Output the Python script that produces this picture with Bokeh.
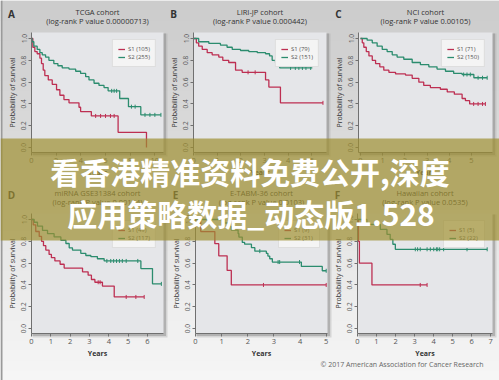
import numpy as np
from bokeh.plotting import figure
from bokeh.models import Range1d, FixedTicker, PrintfTickFormatter, GridBox
from bokeh.core.properties import value
from bokeh.embed import file_html
from bokeh.resources import INLINE

# ---------------- data ----------------
letters = ["A", "B", "C", "D", "E", "F"]
titles = ["TCGA cohort", "LIRI-JP cohort", "NCI cohort",
          "miRNA GSE31384 cohort", "E-TABM-36 cohort", "Hawaiian cohort"]
pvalues = ["0.00000713", "0.000442", "0.00105", "0.00134", "0.0103", "0.0535"]
s1_n = [105, 79, 71, 49, 9, 5]
s2_n = [255, 151, 150, 117, 31, 22]
x_ticks = [[0, 2, 4, 6, 8, 10], [0, 1, 2, 3, 4, 5], [0, 1, 2, 3, 4, 5],
           [0, 1, 2, 3, 4, 5, 6], [0, 1, 2, 3, 4, 5], [0, 1, 2, 3, 4, 5, 6, 7]]
y_ticks = [0.0, 0.2, 0.4, 0.6, 0.8, 1.0]

a_s1_t = [0, 0.11, 0.27, 0.46, 0.68, 0.81, 0.95, 1.08, 1.36, 1.68, 2.03, 2.30, 2.63, 3.04, 3.85, 3.98, 4.85, 7.02, 9.32]
a_s1_s = [1.0, 0.92, 0.88, 0.86, 0.82, 0.77, 0.71, 0.66, 0.62, 0.58, 0.53, 0.48, 0.44, 0.41, 0.37, 0.33, 0.29, 0.14, 0.0]
a_s2_t = [0, 0.05, 0.19, 0.46, 0.68, 0.87, 1.14, 1.41, 1.81, 2.14, 2.49, 3.04, 3.58, 3.98, 4.39, 4.66, 5.07, 5.47, 5.88, 6.21, 7.15, 7.86, 8.86, 10.49]
a_s2_s = [1.0, 0.97, 0.93, 0.90, 0.87, 0.85, 0.83, 0.80, 0.77, 0.75, 0.73, 0.72, 0.70, 0.68, 0.65, 0.62, 0.59, 0.57, 0.55, 0.52, 0.45, 0.375, 0.30, 0.30]
a_c1_t = [5.2, 5.6, 6.0, 6.4, 6.7]
a_c1_s = [0.29, 0.29, 0.29, 0.29, 0.29]
a_c2_t = [6.5, 6.7, 6.9, 8.1, 8.4, 9.2, 9.6, 10.0, 10.49]
a_c2_s = [0.52, 0.52, 0.52, 0.375, 0.375, 0.30, 0.30, 0.30, 0.30]

b_s1_t = [0, 0.11, 0.21, 0.36, 0.57, 0.78, 1.06, 1.23, 1.48, 1.77, 2.05, 3.04, 3.18, 3.67, 5.47]
b_s1_s = [1.0, 0.96, 0.93, 0.90, 0.87, 0.85, 0.83, 0.80, 0.78, 0.71, 0.69, 0.62, 0.555, 0.41, 0.41]
b_s2_t = [0, 0.21, 0.64, 1.13, 1.41, 1.63, 1.98, 2.33, 2.69, 3.04, 3.21, 3.32, 3.46, 3.64, 5.02]
b_s2_s = [1.0, 0.97, 0.955, 0.94, 0.92, 0.90, 0.89, 0.88, 0.87, 0.86, 0.84, 0.80, 0.78, 0.73, 0.73]
b_c1_t = [2.3, 2.6, 5.47]
b_c1_s = [0.69, 0.69, 0.41]
b_c2_t = [4.1, 4.3, 4.45, 4.6, 4.75, 4.95]
b_c2_s = [0.73, 0.73, 0.73, 0.73, 0.73, 0.73]

c_s1_t = [0, 0.08, 0.15, 0.26, 0.38, 0.53, 0.68, 0.87, 1.05, 1.28, 1.58, 2.03, 2.33, 2.63, 2.85, 3.15, 3.60, 3.91, 4.23, 4.58, 4.73, 4.92, 5.63]
c_s1_s = [1.0, 0.96, 0.92, 0.88, 0.84, 0.80, 0.77, 0.74, 0.71, 0.69, 0.675, 0.665, 0.635, 0.60, 0.57, 0.55, 0.535, 0.51, 0.49, 0.45, 0.43, 0.40, 0.40]
c_s2_t = [0, 0.30, 0.53, 0.75, 0.98, 1.20, 1.43, 1.65, 1.95, 2.33, 2.70, 3.08, 3.45, 3.83, 4.20, 4.58, 5.11, 5.71]
c_s2_s = [1.0, 0.985, 0.96, 0.93, 0.90, 0.88, 0.85, 0.83, 0.81, 0.78, 0.76, 0.74, 0.72, 0.70, 0.68, 0.67, 0.64, 0.64]
c_c1_t = [5.1, 5.3, 5.5, 5.63]
c_c1_s = [0.40, 0.40, 0.40, 0.40]
c_c2_t = [4.65, 4.8, 4.95, 5.3, 5.5, 5.71]
c_c2_s = [0.67, 0.67, 0.67, 0.64, 0.64, 0.64]

d_s1_t = [0, 0.09, 0.22, 0.40, 0.52, 0.62, 0.74, 0.91, 1.03, 1.21, 1.48, 1.69, 2.64, 2.93, 3.10, 3.28, 3.67, 4.28, 5.83]
d_s1_s = [1.0, 0.95, 0.89, 0.845, 0.80, 0.76, 0.72, 0.68, 0.65, 0.62, 0.59, 0.555, 0.52, 0.49, 0.45, 0.425, 0.39, 0.29, 0.29]
d_s2_t = [0, 0.14, 0.31, 0.57, 0.83, 1.17, 1.52, 1.78, 1.95, 2.12, 2.55, 2.81, 3.07, 3.41, 3.76, 5.66, 6.26, 6.72]
d_s2_s = [1.0, 0.975, 0.94, 0.90, 0.87, 0.84, 0.81, 0.78, 0.74, 0.72, 0.69, 0.67, 0.66, 0.64, 0.62, 0.55, 0.41, 0.41]
d_c1_t = [3.45, 3.55, 4.9, 5.4, 5.83]
d_c1_s = [0.425, 0.425, 0.29, 0.29, 0.29]
d_c2_t = [3.9, 4.1, 4.25, 4.4, 4.55, 4.7, 4.9, 5.5, 6.72]
d_c2_s = [0.62, 0.62, 0.62, 0.62, 0.62, 0.62, 0.62, 0.62, 0.41]

e_s1_t = [0, 0.20, 0.74, 0.89, 1.21, 1.37, 5.0]
e_s1_s = [1.0, 0.889, 0.778, 0.667, 0.533, 0.40, 0.40]
e_s2_t = [0, 1.12, 1.31, 1.37, 1.63, 1.66, 1.79, 1.88, 2.14, 2.27, 2.71, 2.77, 2.84, 2.94, 4.05, 4.85, 5.0]
e_s2_s = [1.0, 0.968, 0.935, 0.903, 0.871, 0.839, 0.79, 0.774, 0.742, 0.71, 0.69, 0.665, 0.64, 0.61, 0.57, 0.53, 0.53]
e_c1_t = [2.6, 5.0]
e_c1_s = [0.40, 0.40]
e_c2_t = [2.46, 3.16, 3.22, 3.98, 5.0]
e_c2_s = [0.71, 0.61, 0.61, 0.61, 0.53]

f_s1_t = [0, 0.05, 0.10, 0.76, 3.66]
f_s1_s = [1.0, 0.8, 0.6, 0.4, 0.4]
f_s2_t = [0, 0.49, 1.20, 1.55, 1.72, 1.86, 1.99, 6.82]
f_s2_s = [1.0, 0.955, 0.909, 0.864, 0.818, 0.773, 0.727, 0.727]
f_c1_t = [3.3, 3.66]
f_c1_s = [0.4, 0.4]
f_c2_t = [3.04, 3.16, 3.30, 3.66, 3.83, 4.01, 4.15, 4.22, 4.32, 4.53, 5.76, 6.82]
f_c2_s = [0.727] * 12

banner_lines = ["看香港精准资料免费公开,深度", "应用策略数据_动态版1.528"]
footer = "© 2017 American Association for Cancer Research"

series = [
    (a_s1_t, a_s1_s, a_s2_t, a_s2_s, a_c1_t, a_c1_s, a_c2_t, a_c2_s),
    (b_s1_t, b_s1_s, b_s2_t, b_s2_s, b_c1_t, b_c1_s, b_c2_t, b_c2_s),
    (c_s1_t, c_s1_s, c_s2_t, c_s2_s, c_c1_t, c_c1_s, c_c2_t, c_c2_s),
    (d_s1_t, d_s1_s, d_s2_t, d_s2_s, d_c1_t, d_c1_s, d_c2_t, d_c2_s),
    (e_s1_t, e_s1_s, e_s2_t, e_s2_s, e_c1_t, e_c1_s, e_c2_t, e_c2_s),
    (f_s1_t, f_s1_s, f_s2_t, f_s2_s, f_c1_t, f_c1_s, f_c2_t, f_c2_s),
]

# ---------------- layout / style ----------------
W, H = 499, 380
# plot boxes (left, right, top, bottom) in page pixels
boxes = [(31, 163, 32, 152), (193, 326, 32, 152), (358, 492, 32, 152),
         (31, 163, 213, 333), (195, 327, 213, 333), (357, 492, 213, 333)]
x_ranges = [(0, 10.7), (-0.01, 5.62), (-0.09, 5.95), (0, 6.83), (0, 5.05), (0, 7.1)]
RED = "#bd2f52"
GREEN = "#2b8c6e"
FONT = "Open Sans"
BL, BR, BT, BB = 30, 6, 4, 30


def canvas_fig():
    p = figure(width=W, height=H, x_range=Range1d(0, W), y_range=Range1d(H, 0),
               output_backend="svg", toolbar_location=None, min_border=0,
               x_axis_type=None, y_axis_type=None, margin=(0, 0, 0, 0),
               sizing_mode="fixed", align="start", frame_align=False)
    p.grid.visible = False
    p.outline_line_color = None
    return p


def make_bg():
    p = canvas_fig()
    p.background_fill_color = "#eeeeee"
    p.border_fill_color = "#eeeeee"
    nb = 38
    edges = np.linspace(0, H, nb + 1)
    c0 = np.array([204, 204, 204])
    c1 = np.array([246, 246, 246])
    cols = []
    for k in range(nb):
        f = k / (nb - 1)
        c = (c0 * (1 - f) + c1 * f).astype(int)
        cols.append("#%02x%02x%02x" % tuple(c))
    p.quad(left=0, right=W, top=edges[:-1], bottom=edges[1:] + 0.5, fill_color=cols, line_color=None)
    p.quad(left=0, right=2, top=0, bottom=H, fill_color="#9a9a9a", line_color=None)
    for (L, R, T, B) in boxes:
        p.quad(left=L + 1, right=R + 4, top=T + 1, bottom=B + 4, fill_color="#a0a0a0",
               fill_alpha=0.35, line_color=None)
        p.quad(left=L + 1, right=R + 2.5, top=T + 1, bottom=B + 2.5, fill_color="#888888",
               fill_alpha=0.45, line_color=None)
    cx = [(b[0] + b[1]) / 2 for b in boxes]
    p.text(x=cx, y=[b[2] - 20.5 for b in boxes], text=titles, text_align="center",
           text_baseline="middle", text_font=value(FONT), text_font_size="7.5px", text_color="#333333")
    subs = ["(log-rank P value %s)" % v for v in pvalues]
    p.text(x=cx, y=[b[2] - 11.5 for b in boxes], text=subs, text_align="center",
           text_baseline="middle", text_font=value(FONT), text_font_size="7.5px", text_color="#333333")
    p.text(x=[b[0] - 20 for b in boxes], y=[b[2] - 19 for b in boxes], text=letters,
           text_align="center", text_baseline="middle", text_font=value(FONT),
           text_font_size="10px", text_font_style="bold", text_color="#333333")
    p.text(x=[483], y=[364], text=[footer], text_align="right", text_baseline="middle",
           text_font=value(FONT), text_font_size="7px", text_color="#666666")
    return p


def make_panel(i):
    L, R, T, B = boxes[i]
    s1t, s1s, s2t, s2s, c1t, c1s, c2t, c2s = series[i]
    p = figure(width=BL + (R - L) + BR, height=BT + (B - T) + BB, x_range=Range1d(*x_ranges[i]),
               y_range=Range1d(-0.045, 1.055), output_backend="svg", toolbar_location=None,
               min_border_left=BL, min_border_right=BR, min_border_top=BT, min_border_bottom=BB,
               margin=(T - BT, 0, 0, L - BL), sizing_mode="fixed", align="start", frame_align=False)
    p.background_fill_color = "#e5e6e9"
    p.border_fill_alpha = 0
    p.outline_line_color = None
    p.grid.visible = False
    p.step(s1t, s1s, mode="after", line_color=RED, line_width=1.3, legend_label="S1 (%d)" % s1_n[i])
    p.step(s2t, s2s, mode="after", line_color=GREEN, line_width=1.3, legend_label="S2 (%d)" % s2_n[i])
    p.scatter(c1t, c1s, marker="dash", angle=np.pi / 2, size=4, line_color=RED, line_width=1)
    p.scatter(c2t, c2s, marker="dash", angle=np.pi / 2, size=4, line_color=GREEN, line_width=1)

    for ax in (p.xaxis[0], p.yaxis[0]):
        ax.axis_line_color = "#707070"
        ax.major_tick_line_color = "#707070"
        ax.minor_tick_line_color = None
        ax.major_tick_out = 3
        ax.major_tick_in = 0
        ax.major_label_standoff = 2
        ax.major_label_text_font = FONT
        ax.major_label_text_color = "#555555"
        ax.axis_label_text_font = FONT
        ax.axis_label_text_color = "#333333"
    xa = p.xaxis[0]
    xa.ticker = FixedTicker(ticks=x_ticks[i])
    xa.major_label_text_font_size = "7.5px"
    xa.axis_label = "Years"
    xa.axis_label_text_font_size = "7px"
    xa.axis_label_text_font_style = "bold"
    xa.axis_label_standoff = 2
    ya = p.yaxis[0]
    ya.ticker = FixedTicker(ticks=y_ticks)
    ya.formatter = PrintfTickFormatter(format="%.1f")
    ya.major_label_text_font_size = "6.5px"
    ya.major_label_orientation = "vertical"
    ya.axis_label = "Probability of survival"
    ya.axis_label_text_font_size = "7px"
    ya.axis_label_text_font_style = "normal"
    ya.axis_label_standoff = 2

    lg = p.legend[0]
    lg.location = "top_right"
    lg.margin = 7
    lg.padding = 5
    lg.spacing = 0
    lg.label_height = 8
    lg.glyph_height = 8
    lg.glyph_width = 7
    lg.label_standoff = 3
    lg.label_text_font = FONT
    lg.label_text_font_size = "6px"
    lg.label_text_color = "#555555"
    lg.background_fill_color = "#f4f4f4"
    lg.background_fill_alpha = 1
    lg.border_line_color = "#c8c8c8"
    return p


def make_overlay():
    p = canvas_fig()
    p.background_fill_alpha = 0
    p.border_fill_alpha = 0
    p.quad(left=0, right=W, top=138, bottom=240, fill_color="#9e8f31", fill_alpha=0.7, line_color=None)
    p.text(x=[249.5, 250.5], y=[170, 212], text=banner_lines, text_align="center",
           text_baseline="middle", text_font=value("Noto Sans CJK SC"), text_font_style="bold",
           text_font_size="30px", text_color="white")
    return p


children = [(make_bg(), 0, 0)] + [(make_panel(i), 0, 0) for i in range(6)] + [(make_overlay(), 0, 0)]
grid = GridBox(children=children, width=W, height=H, sizing_mode="fixed")

open("out.html", "w").write(file_html(grid, INLINE))
